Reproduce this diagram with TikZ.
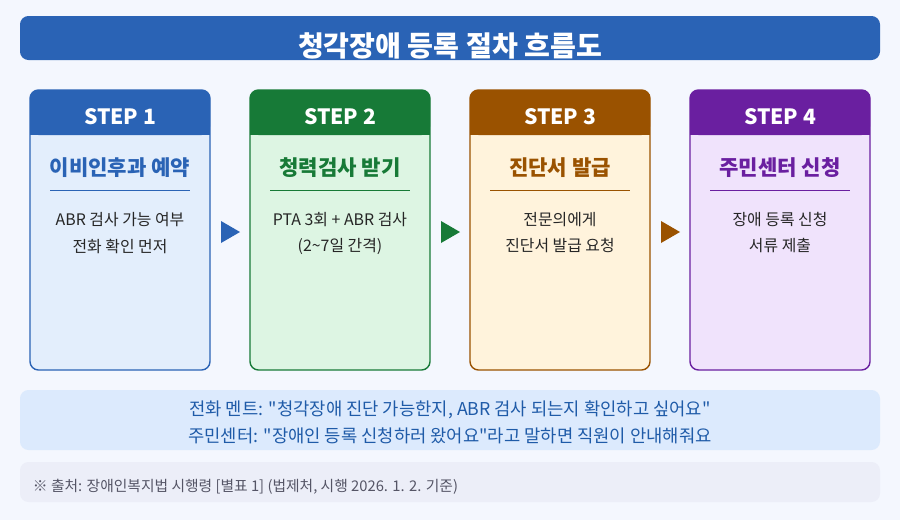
\documentclass[tikz,border=0pt]{standalone}
\usepackage{fontspec}
\setmainfont{Noto Sans CJK KR}
\usetikzlibrary{positioning}
\definecolor{bgc}{HTML}{F4F7FE}
\definecolor{titlec}{HTML}{2A63B5}
\definecolor{hblue}{HTML}{2A63B5}\definecolor{fblue}{HTML}{E3EEFC}
\definecolor{hgreen}{HTML}{177A37}\definecolor{fgreen}{HTML}{DDF5E3}
\definecolor{hbrown}{HTML}{9A5200}\definecolor{fbrown}{HTML}{FFF3DC}
\definecolor{hpurple}{HTML}{6A1FA0}\definecolor{fpurple}{HTML}{F0E3FC}
\definecolor{notec}{HTML}{DCEAFD}\definecolor{notetext}{HTML}{1F5BA8}
\definecolor{footc}{HTML}{ECEEF8}\definecolor{foottext}{HTML}{555566}
\begin{document}
\begin{tikzpicture}[x=0.025cm,y=-0.025cm,
  card/.style={draw=#1, line width=1pt, rounded corners=6pt},
  head/.style={text=white, font=\bfseries\fontsize{15}{18}\selectfont},
  sub/.style={font=\bfseries\fontsize{15}{18}\selectfont},
  body/.style={font=\fontsize{11.3}{14}\selectfont, text=black!85},
  note/.style={text=notetext, font=\fontsize{12.6}{15}\selectfont}
]
\useasboundingbox (0,0) rectangle (900,520);
\fill[bgc] (0,0) rectangle (900,520);

% Title
\fill[titlec, rounded corners=6pt] (20,16) rectangle (880,60);
\node[text=white, font=\bfseries\fontsize{20}{24}\selectfont] (title) at (450,46) {청각장애 등록 절차 흐름도};

% Steps
\foreach \x/\c/\n/\s/\a/\b in {
  30/blue/1/이비인후과 예약/ABR 검사 가능 여부/전화 확인 먼저,
  250/green/2/청력검사 받기/PTA 3회 + ABR 검사/(2\textasciitilde 7일 간격),
  470/brown/3/진단서 발급/전문의에게/진단서 발급 요청,
  690/purple/4/주민센터 신청/장애 등록 신청/서류 제출}{
  \fill[f\c, rounded corners=6pt] (\x,90) rectangle ++(180,280);
  \fill[h\c, rounded corners=6pt] (\x,90) rectangle ++(180,45);
  \fill[h\c] (\x,120) rectangle ++(180,15);
  \draw[card=h\c] (\x,90) rectangle ++(180,280);
  \node[head] (step\n) at (\x+90,117) {STEP \n};
  \node[sub, text=h\c] (sub\n) at (\x+90,168) {\s};
  \draw[h\c, line width=0.6pt] (\x+20,190) -- ++(140,0);
  \node[body] (bodya\n) at (\x+90,220) {\a};
  \node[body] (bodyb\n) at (\x+90,246) {\b};
}

% Arrows
\foreach \x/\c in {221/hblue, 441/hgreen, 661/hbrown}
  \fill[\c] (\x,221) -- ++(19,11) -- ++(-19,11) -- cycle;

% Note
\fill[notec, rounded corners=6pt] (20,390) rectangle (880,450);
\node[note] (notea) at (450,410) {전화 멘트: \textquotedbl 청각장애 진단 가능한지, ABR 검사 되는지 확인하고 싶어요\textquotedbl};
\node[note] (noteb) at (450,436) {주민센터: \textquotedbl 장애인 등록 신청하러 왔어요\textquotedbl 라고 말하면 직원이 안내해줘요};

% Source
\fill[footc, rounded corners=6pt] (20,462) rectangle (880,502);
\node[text=foottext, anchor=west, font=\fontsize{10.5}{12}\selectfont] (source) at (28,487) {※ 출처: 장애인복지법 시행령 [별표 1] (법제처, 시행 2026. 1. 2. 기준)};
\end{tikzpicture}
\end{document}
